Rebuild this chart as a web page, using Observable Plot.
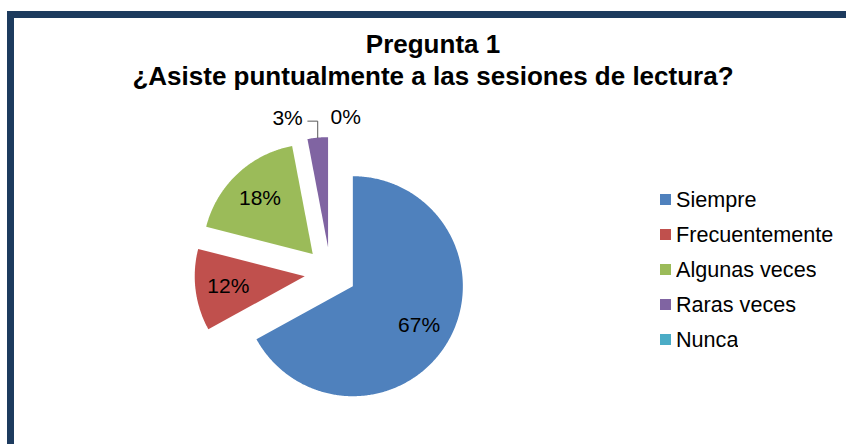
<!DOCTYPE html>
<html><head><meta charset="utf-8">
<script src="https://cdn.jsdelivr.net/npm/d3@7"></script>
<script src="https://cdn.jsdelivr.net/npm/@observablehq/plot@0.6"></script>
<style>
html,body{margin:0;padding:0;background:#fff;width:846px;height:444px;overflow:hidden;font-family:"Liberation Sans",Arial,sans-serif;}
#frame{position:absolute;left:7px;top:11px;width:846px;height:440px;border-top:7px solid #1d3b5e;border-left:7px solid #1d3b5e;}
#title{position:absolute;left:0;top:28px;width:866px;text-align:center;font-weight:bold;font-size:26px;line-height:32px;color:#000;}
#chart{position:absolute;left:0;top:0;}
#legend{position:absolute;left:660px;top:182px;}
.lg-swatches{font-family:"Liberation Sans",Arial,sans-serif;font-size:21.6px;color:#000;margin:0;}
.lg-swatch{height:35px;padding:0 !important;}
.lg-swatch > svg{margin-right:5px;}
</style></head><body>
<div id="frame"></div>
<div id="chart"></div>
<div id="title">Pregunta 1<br>¿Asiste puntualmente a las sesiones de lectura?</div>
<div id="legend"></div>
<script>
const categories = ["Siempre", "Frecuentemente", "Algunas veces", "Raras veces", "Nunca"];
const percentages = [67, 12, 18, 3, 0];
const colors = ["#4f81bd", "#c0504d", "#9bbb59", "#8064a2", "#4bacc6"];

// layout
const W = 846, H = 444, CX = 330, CY = 272.5, R = 110, EXPLODE = 0.236;

const arcs = d3.pie().sort(null).value(d => d)(percentages);
const slices = arcs.map((a, i) => {
  const mid = (a.startAngle + a.endAngle) / 2;
  return {key: categories[i], value: a.data, start: a.startAngle, end: a.endAngle, mid,
          ox: EXPLODE * Math.sin(mid), oy: EXPLODE * Math.cos(mid)};
});

const outline = [];
for (const s of slices) {
  if (s.end <= s.start) continue;
  outline.push({key: s.key, x: s.ox, y: s.oy});
  const n = Math.max(2, Math.ceil((s.end - s.start) / 0.01));
  for (let k = 0; k <= n; k++) {
    const t = s.start + (s.end - s.start) * k / n;
    outline.push({key: s.key, x: s.ox + Math.sin(t), y: s.oy + Math.cos(t)});
  }
}

const inLabels = [], outLeft = [], outRight = [], leader = [];
for (const s of slices) {
  const txt = s.value + "%";
  if (s.value >= 5) {
    inLabels.push({text: txt, x: s.ox + 0.7 * Math.sin(s.mid), y: s.oy + 0.7 * Math.cos(s.mid)});
  } else {
    const mx = s.ox + Math.sin(s.mid), my = s.oy + Math.cos(s.mid), ly = my + 0.15;
    if (s.value > 0) {
      leader.push({key: s.key, x: mx, y: my}, {key: s.key, x: mx, y: ly}, {key: s.key, x: mx - 0.09, y: ly});
      outLeft.push({text: txt, x: mx - 0.09, y: ly});
    } else {
      outRight.push({text: txt, x: mx, y: ly});
    }
  }
}

const font = '"Liberation Sans", Arial, sans-serif';
const plot = Plot.plot({
  width: W, height: H, margin: 0,
  x: {domain: [-CX / R, (W - CX) / R], axis: null},
  y: {domain: [-(H - CY) / R, CY / R], axis: null},
  color: {domain: categories, range: colors},
  style: {fontFamily: font, background: "transparent", overflow: "visible"},
  marks: [
    Plot.line(outline, {x: "x", y: "y", z: "key", fill: "key", stroke: "none", curve: "linear-closed"}),
    Plot.line(leader, {x: "x", y: "y", z: "key", stroke: "#595959", strokeWidth: 1}),
    Plot.text(inLabels, {x: "x", y: "y", text: "text", fontSize: 21, fill: "#000"}),
    Plot.text(outLeft, {x: "x", y: "y", text: "text", fontSize: 21, fill: "#000", textAnchor: "end", dx: -5, dy: -3}),
    Plot.text(outRight, {x: "x", y: "y", text: "text", fontSize: 21, fill: "#000", textAnchor: "start", dy: -3})
  ]
});
document.getElementById("chart").appendChild(plot);

const legend = Plot.legend({
  color: {domain: categories, range: colors, type: "ordinal"},
  legend: "swatches", columns: 1, swatchSize: 11, className: "lg"
});
document.getElementById("legend").appendChild(legend);
</script>
</body></html>
